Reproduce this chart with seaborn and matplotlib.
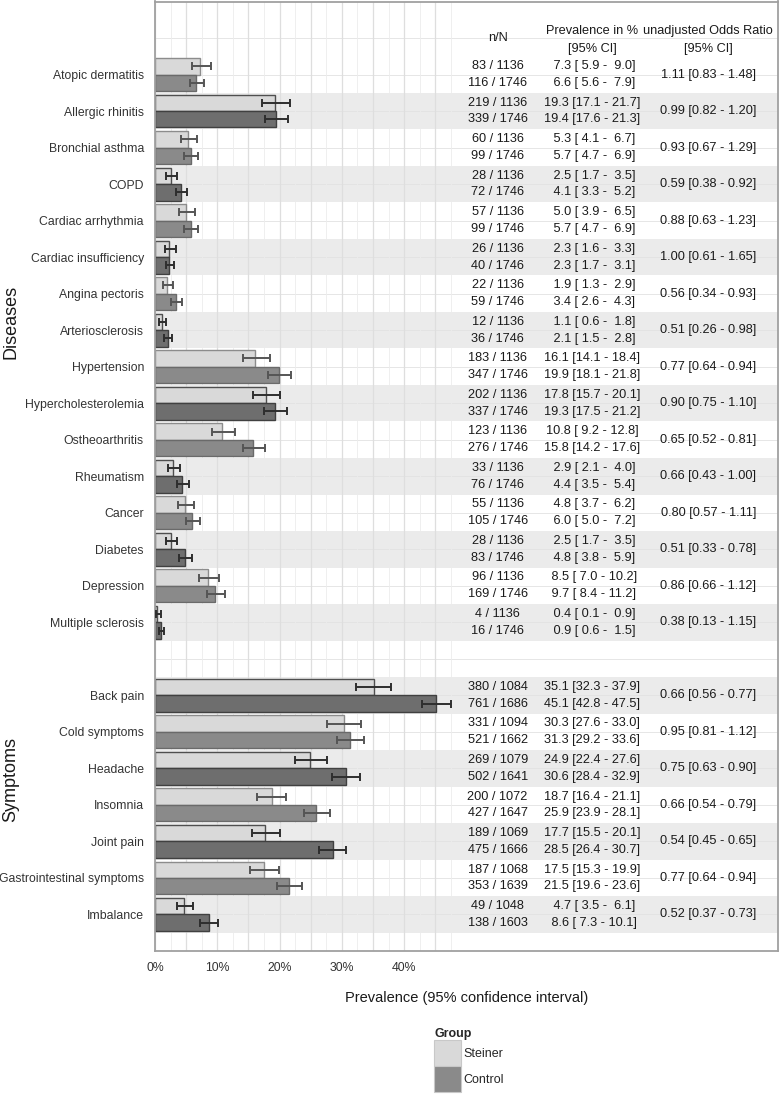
import numpy as np
import pandas as pd
import matplotlib
matplotlib.use('Agg')
import matplotlib.pyplot as plt
from matplotlib.patches import Patch
import seaborn as sns

# --- data ---
diseases = ['Atopic dermatitis', 'Allergic rhinitis', 'Bronchial asthma', 'COPD',
            'Cardiac arrhythmia', 'Cardiac insufficiency', 'Angina pectoris',
            'Arteriosclerosis', 'Hypertension', 'Hypercholesterolemia',
            'Ostheoarthritis', 'Rheumatism', 'Cancer', 'Diabetes', 'Depression',
            'Multiple sclerosis']
symptoms = ['Back pain', 'Cold symptoms', 'Headache', 'Insomnia', 'Joint pain',
            'Gastrointestinal symptoms', 'Imbalance']

# Steiner group
n_steiner = [83, 219, 60, 28, 57, 26, 22, 12, 183, 202, 123, 33, 55, 28, 96, 4,
             380, 331, 269, 200, 189, 187, 49]
N_steiner = [1136] * 16 + [1084, 1094, 1079, 1072, 1069, 1068, 1048]
prev_steiner = [7.3, 19.3, 5.3, 2.5, 5.0, 2.3, 1.9, 1.1, 16.1, 17.8, 10.8, 2.9, 4.8, 2.5, 8.5, 0.4,
                35.1, 30.3, 24.9, 18.7, 17.7, 17.5, 4.7]
lo_steiner = [5.9, 17.1, 4.1, 1.7, 3.9, 1.6, 1.3, 0.6, 14.1, 15.7, 9.2, 2.1, 3.7, 1.7, 7.0, 0.1,
              32.3, 27.6, 22.4, 16.4, 15.5, 15.3, 3.5]
hi_steiner = [9.0, 21.7, 6.7, 3.5, 6.5, 3.3, 2.9, 1.8, 18.4, 20.1, 12.8, 4.0, 6.2, 3.5, 10.2, 0.9,
              37.9, 33.0, 27.6, 21.1, 20.1, 19.9, 6.1]

# Control group
n_control = [116, 339, 99, 72, 99, 40, 59, 36, 347, 337, 276, 76, 105, 83, 169, 16,
             761, 521, 502, 427, 475, 353, 138]
N_control = [1746] * 16 + [1686, 1662, 1641, 1647, 1666, 1639, 1603]
prev_control = [6.6, 19.4, 5.7, 4.1, 5.7, 2.3, 3.4, 2.1, 19.9, 19.3, 15.8, 4.4, 6.0, 4.8, 9.7, 0.9,
                45.1, 31.3, 30.6, 25.9, 28.5, 21.5, 8.6]
lo_control = [5.6, 17.6, 4.7, 3.3, 4.7, 1.7, 2.6, 1.5, 18.1, 17.5, 14.2, 3.5, 5.0, 3.8, 8.4, 0.6,
              42.8, 29.2, 28.4, 23.9, 26.4, 19.6, 7.3]
hi_control = [7.9, 21.3, 6.9, 5.2, 6.9, 3.1, 4.3, 2.8, 21.8, 21.2, 17.6, 5.4, 7.2, 5.9, 11.2, 1.5,
              47.5, 33.6, 32.9, 28.1, 30.7, 23.6, 10.1]

# unadjusted odds ratio
odds = [1.11, 0.99, 0.93, 0.59, 0.88, 1.00, 0.56, 0.51, 0.77, 0.90, 0.65, 0.66, 0.80, 0.51, 0.86, 0.38,
        0.66, 0.95, 0.75, 0.66, 0.54, 0.77, 0.52]
odds_lo = [0.83, 0.82, 0.67, 0.38, 0.63, 0.61, 0.34, 0.26, 0.64, 0.75, 0.52, 0.43, 0.57, 0.33, 0.66, 0.13,
           0.56, 0.81, 0.63, 0.54, 0.45, 0.64, 0.37]
odds_hi = [1.48, 1.20, 1.29, 0.92, 1.23, 1.65, 0.93, 0.98, 0.94, 1.10, 0.81, 1.00, 1.11, 0.78, 1.12, 1.15,
           0.77, 1.12, 0.90, 0.79, 0.65, 0.94, 0.73]

groups = ['Steiner', 'Control']
items = diseases + symptoms
gap = ' '
order = diseases + [gap] + symptoms   # empty row between the two blocks

df = pd.DataFrame({
    'item': items * 2,
    'Group': ['Steiner'] * len(items) + ['Control'] * len(items),
    'prev': prev_steiner + prev_control,
    'lo': lo_steiner + lo_control,
    'hi': hi_steiner + hi_control,
})

# --- plot ---
sns.set_style('white')
plt.rcParams['font.family'] = ['Liberation Sans', 'DejaVu Sans']

fig = plt.figure(figsize=(7.81, 10.99), dpi=100)
ax = fig.add_axes([155 / 781, 1 - 951 / 1099, 623 / 781, 949.5 / 1099])

row_of = {name: order.index(name) for name in items}

# light stripes on every second row
for name in items:
    i = row_of[name]
    if i % 2 == 1:
        ax.axhspan(i - 0.5, i + 0.5, color='#ebebeb', lw=0, zorder=0.2)

sns.barplot(data=df, y='item', x='prev', hue='Group', order=order, hue_order=groups,
            orient='h', errorbar=None, width=0.9, gap=0, legend=False,
            palette=['#dadada', '#8a8a8a'], ax=ax, zorder=2)

# recolour bars (rows on stripes look darker) and add confidence intervals
for cont, grp in zip(ax.containers, groups):
    sub = df[df['Group'] == grp].set_index('item')
    for bar in cont:
        yc = bar.get_y() + bar.get_height() / 2
        row = int(round(yc))
        striped = row % 2 == 1
        if grp == 'Steiner':
            bar.set_facecolor('#d9d9d9')
            bar.set_edgecolor('#4f4f4f' if striped else '#8c8c8c')
        else:
            bar.set_facecolor('#6e6e6e' if striped else '#8a8a8a')
            bar.set_edgecolor('#404040' if striped else '#6a6a6a')
        bar.set_linewidth(1.0)
        nm = order[row]
        ecol = '#2e2e2e' if striped else '#555555'
        ax.errorbar(sub.loc[nm, 'prev'], yc,
                    xerr=[[sub.loc[nm, 'prev'] - sub.loc[nm, 'lo']],
                          [sub.loc[nm, 'hi'] - sub.loc[nm, 'prev']]],
                    fmt='none', ecolor=ecol, elinewidth=1.4, capsize=2.6,
                    capthick=1.4, zorder=3)

# table columns
txt = dict(fontsize=9.2, color='#1a1a1a', ha='center', va='center', zorder=4)
x_n, x_p, x_or = 55.0, 70.2, 88.8
ax.text(x_n, -1.0, 'n/N', **txt)
ax.text(x_p, -1.2, 'Prevalence in %', **txt)
ax.text(x_p, -0.7, '[95% CI]', **txt)
ax.text(x_or, -1.2, 'unadjusted Odds Ratio', **txt)
ax.text(x_or, -0.7, '[95% CI]', **txt)
for k, name in enumerate(items):
    i = row_of[name]
    ax.text(x_n, i - 0.23, f'{n_steiner[k]} / {N_steiner[k]}', **txt)
    ax.text(x_n, i + 0.23, f'{n_control[k]} / {N_control[k]}', **txt)
    ax.text(x_p, i - 0.23, f'{prev_steiner[k]:4.1f} [{lo_steiner[k]:4.1f} - {hi_steiner[k]:4.1f}]', **txt)
    ax.text(x_p, i + 0.23, f'{prev_control[k]:4.1f} [{lo_control[k]:4.1f} - {hi_control[k]:4.1f}]', **txt)
    ax.text(x_or, i, f'{odds[k]:.2f} [{odds_lo[k]:.2f} - {odds_hi[k]:.2f}]', **txt)

# axes
ax.set_xlim(0, 100)
ax.set_ylim(len(order), -2)
xt = np.arange(0, 50, 5)
ax.set_xticks(xt)
ax.set_xticklabels([f'{v}%' if v % 10 == 0 and v < 45 else '' for v in xt])
ax.set_xticks(np.arange(2.5, 50, 5), minor=True)
ax.set_yticks([row_of[n] for n in items])
ax.set_yticklabels(items)
ax.tick_params(axis='both', which='major', length=5, width=1.6, color='#333333',
               labelsize=8.8, labelcolor='#333333', pad=3)
ax.tick_params(axis='x', which='minor', length=0)
ax.set_axisbelow(True)
ax.grid(True, which='major', axis='x', color='#dedede', lw=0.9)
ax.grid(True, which='minor', axis='x', color='#ececec', lw=0.6)
for y in range(-2, len(order)):
    ax.axhline(y, color='#e2e2e2', lw=0.6, zorder=0.5)
for s in ax.spines.values():
    s.set_color('#a0a0a0')
    s.set_linewidth(1.3)
ax.set_xlabel('Prevalence (95% confidence interval)', fontsize=10.5, color='#1a1a1a', labelpad=12)
ax.set_ylabel('')

# facet labels on the left
fig.text(11 / 781, 1 - 322 / 1099, 'Diseases', rotation=90, fontsize=13,
         ha='center', va='center', color='#1a1a1a')
fig.text(11 / 781, 1 - 780 / 1099, 'Symptoms', rotation=90, fontsize=13,
         ha='center', va='center', color='#1a1a1a')

# legend
handles = [Patch(facecolor='#d9d9d9', edgecolor='#c8c8c8', lw=0.8),
           Patch(facecolor='#8a8a8a', edgecolor='#c8c8c8', lw=0.8)]
leg = fig.legend(handles, groups, title='Group', loc='upper left',
                 bbox_to_anchor=(428 / 781, 1 - 1022 / 1099), frameon=False,
                 fontsize=9, title_fontsize=9, handlelength=2.1, handleheight=2.82,
                 labelspacing=0, handletextpad=0.25, borderpad=0, alignment='left')
leg.get_title().set_fontweight('bold')

fig.savefig('out.png', dpi=100)
